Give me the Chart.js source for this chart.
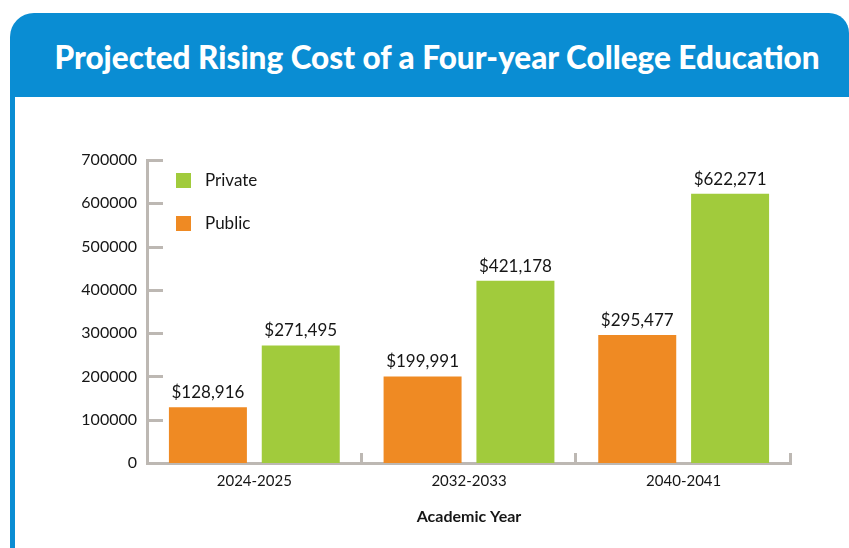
<!DOCTYPE html>
<html>
<head>
<meta charset="utf-8">
<script src="https://cdn.jsdelivr.net/npm/chart.js@4/dist/chart.umd.min.js"></script>
<style>
  html, body { margin: 0; padding: 0; background: #ffffff; overflow: hidden; }
  body { width: 849px; height: 548px; position: relative; }
  .frame { position: absolute; left: 10px; top: 13px; width: 839px; height: 560px;
           background: #0A8DD3; border-top-left-radius: 24px; border-top-right-radius: 20px; }
  .inner { position: absolute; left: 15px; top: 97px; width: 860px; height: 480px; background: #ffffff; }
  .title { position: absolute; left: 0; top: 37px; width: 874px; text-align: center;
           color: #ffffff; font-family: Lato, sans-serif; font-weight: 900; font-size: 31.5px;
           line-height: 40px; white-space: nowrap; }
  #wrap { position: absolute; left: 0; top: 0; width: 849px; height: 548px; }
</style>
</head>
<body>
<div class="frame"></div>
<div class="inner"></div>
<div class="title">Projected Rising Cost of a Four-year College Education</div>
<div id="wrap"><canvas id="c" width="849" height="548"></canvas></div>
<script>
const categories = ['2024-2025', '2032-2033', '2040-2041'];
const publicCost = [128916, 199991, 295477];
const privateCost = [271495, 421178, 622271];
const seriesNames = ['Public', 'Private'];
const yTickValues = [0, 100000, 200000, 300000, 400000, 500000, 600000, 700000];
const xAxisTitle = 'Academic Year';

const ORANGE = '#EF8A23';
const GREEN = '#A1CB3C';
const AXIS = '#BDB8B3';
const TEXT = '#161616';
const FONT = 'Lato, sans-serif';

const axisTicksPlugin = {
  id: 'axisTicks',
  afterDraw(chart) {
    const ctx = chart.ctx;
    const y = chart.scales.y;
    const ca = chart.chartArea;
    ctx.save();
    ctx.strokeStyle = AXIS;
    ctx.lineWidth = 3;
    y.ticks.forEach(t => {
      const py = Math.round(y.getPixelForValue(t.value)) + 0.5;
      if (t.value === 0) return;
      ctx.beginPath();
      ctx.moveTo(ca.left, py);
      ctx.lineTo(ca.left + 16, py);
      ctx.stroke();
    });
    const n = categories.length;
    for (let i = 1; i <= n; i++) {
      const px = Math.round(ca.left + (ca.right - ca.left) * i / n) - 0.5;
      ctx.beginPath();
      ctx.moveTo(px, ca.bottom);
      ctx.lineTo(px, ca.bottom - 10);
      ctx.stroke();
    }
    ctx.restore();
  }
};

const valueLabelsPlugin = {
  id: 'valueLabels',
  afterDatasetsDraw(chart) {
    const ctx = chart.ctx;
    ctx.save();
    ctx.fillStyle = TEXT;
    ctx.font = '17px ' + FONT;
    ctx.textAlign = 'center';
    ctx.textBaseline = 'alphabetic';
    chart.data.datasets.forEach((ds, di) => {
      const meta = chart.getDatasetMeta(di);
      meta.data.forEach((el, i) => {
        const v = ds.data[i];
        ctx.fillText('$' + v.toLocaleString('en-US'), el.x, el.y - 9);
      });
    });
    ctx.restore();
  }
};

const innerLegendPlugin = {
  id: 'innerLegend',
  afterDraw(chart) {
    const ctx = chart.ctx;
    const ca = chart.chartArea;
    const items = chart.data.datasets.slice().reverse();
    ctx.save();
    ctx.font = '17px ' + FONT;
    ctx.textBaseline = 'middle';
    ctx.textAlign = 'left';
    items.forEach((ds, k) => {
      const cy = ca.top + 21 + k * 43;
      ctx.fillStyle = ds.backgroundColor;
      ctx.fillRect(ca.left + 29, cy - 8, 15, 15);
      ctx.fillStyle = TEXT;
      ctx.fillText(ds.label, ca.left + 58, cy);
    });
    ctx.restore();
  }
};

new Chart(document.getElementById('c'), {
  type: 'bar',
  data: {
    labels: categories,
    datasets: [
      { label: seriesNames[0], data: publicCost, backgroundColor: ORANGE,
        barPercentage: 0.84, categoryPercentage: 0.865 },
      { label: seriesNames[1], data: privateCost, backgroundColor: GREEN,
        barPercentage: 0.84, categoryPercentage: 0.865 }
    ]
  },
  options: {
    responsive: false,
    animation: false,
    events: [],
    layout: { padding: { left: 1, right: 58, top: 160, bottom: 0 } },
    plugins: { legend: { display: false }, tooltip: { enabled: false }, title: { display: false } },
    scales: {
      y: {
        min: 0, max: 700000,
        afterBuildTicks(scale) { scale.ticks = yTickValues.map(v => ({ value: v })); },
        afterFit(scale) { scale.width = 146; },
        grid: { display: false, drawTicks: false },
        border: { display: true, color: AXIS, width: 3 },
        ticks: { color: TEXT, font: { family: FONT, size: 16 }, padding: 10,
                 callback: v => String(v) }
      },
      x: {
        afterFit(scale) { scale.height = 85; },
        grid: { display: false, drawTicks: false },
        border: { display: true, color: AXIS, width: 3 },
        ticks: { color: TEXT, font: { family: FONT, size: 15 }, padding: 9 },
        title: { display: true, text: xAxisTitle, color: TEXT,
                 font: { family: FONT, size: 16, weight: 'bold' }, padding: { top: 0, bottom: 22 } }
      }
    }
  },
  plugins: [axisTicksPlugin, valueLabelsPlugin, innerLegendPlugin]
});
</script>
</body>
</html>
